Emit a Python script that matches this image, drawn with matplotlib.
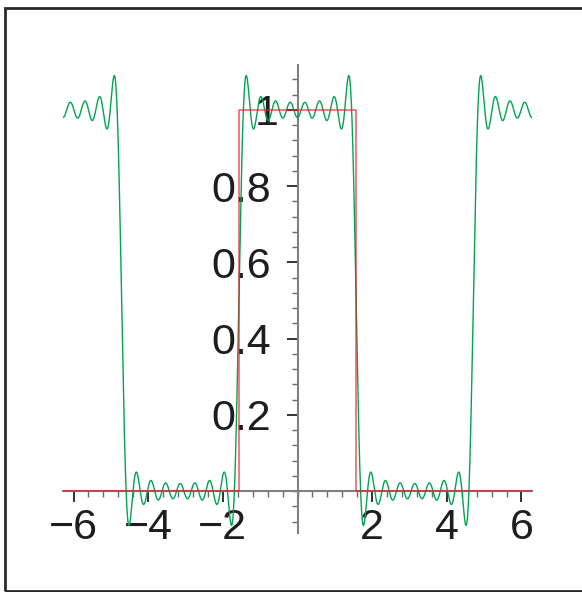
import numpy as np
import matplotlib
matplotlib.use("Agg")
import matplotlib.pyplot as plt
import matplotlib.transforms as mtransforms
from matplotlib.ticker import MultipleLocator, FixedLocator
from matplotlib.patches import Rectangle

# Square pulse: 1 on (-pi/2, pi/2), 0 elsewhere on [-2pi, 2pi]
pulse_x = [-2 * np.pi, -np.pi / 2, -np.pi / 2, np.pi / 2, np.pi / 2, 2 * np.pi]
pulse_y = [0, 0, 1, 1, 0, 0]

# Truncated cosine series of the pulse (odd harmonics up to 15)
series_const = 0.5
harmonics = [1, 3, 5, 7, 9, 11, 13, 15]
coefficients = [0.63662, -0.21221, 0.12732, -0.09095, 0.07074, -0.05787, 0.04897, -0.04244]

x_ticks = [-6, -4, -2, 2, 4, 6]
y_ticks = [0.2, 0.4, 0.6, 0.8, 1.0]
y_tick_labels = ["0.2", "0.4", "0.6", "0.8", "1"]

W, H = 582, 592
fig = plt.figure(figsize=(W / 100, H / 100), dpi=100)
fig.patch.set_facecolor("white")

# outer frame
fig.patches.append(Rectangle((5 / W, 1 / H), 1.2, 583 / H, transform=fig.transFigure,
                             fill=False, edgecolor="#2a2a2a", linewidth=2.0))

ax = fig.add_axes([63 / W, 59 / H, 469 / W, 468 / H])
ax.set_xlim(-2 * np.pi, 2 * np.pi)
ax.set_ylim(-0.11, 1.118)
ax.patch.set_alpha(0)

x = np.linspace(-2 * np.pi, 2 * np.pi, 3000)
s = np.full_like(x, series_const)
for n, c in zip(harmonics, coefficients):
    s += c * np.cos(n * x)

ax.plot(x, s, color="#00a550", lw=1.0, zorder=3)
ax.plot(pulse_x, pulse_y, color="#e8202a", lw=1.1, alpha=0.75, zorder=4)

for side in ("top", "right"):
    ax.spines[side].set_visible(False)
for side in ("left", "bottom"):
    ax.spines[side].set_position(("data", 0))
    ax.spines[side].set_color("#808080")
    ax.spines[side].set_linewidth(1.5)
    ax.spines[side].set_zorder(2)

ax.xaxis.set_major_locator(FixedLocator(x_ticks))
ax.xaxis.set_minor_locator(MultipleLocator(0.4))
ax.yaxis.set_major_locator(FixedLocator(y_ticks))
ax.yaxis.set_minor_locator(MultipleLocator(0.04))
ax.set_yticklabels(y_tick_labels)

font = dict(family=["Liberation Sans", "DejaVu Sans"], size=31)
for lab in ax.get_xticklabels() + ax.get_yticklabels():
    lab.set_fontfamily(font["family"])
    lab.set_fontsize(font["size"])
    lab.set_color("#1e1e1e")

ax.tick_params(axis="both", which="major", direction="out", length=8, width=1.2,
               color="#111111")
ax.tick_params(axis="both", which="minor", direction="out", length=4.5, width=1.0,
               color="#6a6a6a")
ax.tick_params(axis="x", which="major", pad=4.5)
ax.tick_params(axis="y", which="major", pad=11)

# the single-digit "1" label sits closer to the axis
one_label = ax.get_yticklabels()[-1]
one_label.set_transform(one_label.get_transform()
                        + mtransforms.ScaledTranslation(8 / 100, 0, fig.dpi_scale_trans))

fig.savefig("out.png", dpi=100)
